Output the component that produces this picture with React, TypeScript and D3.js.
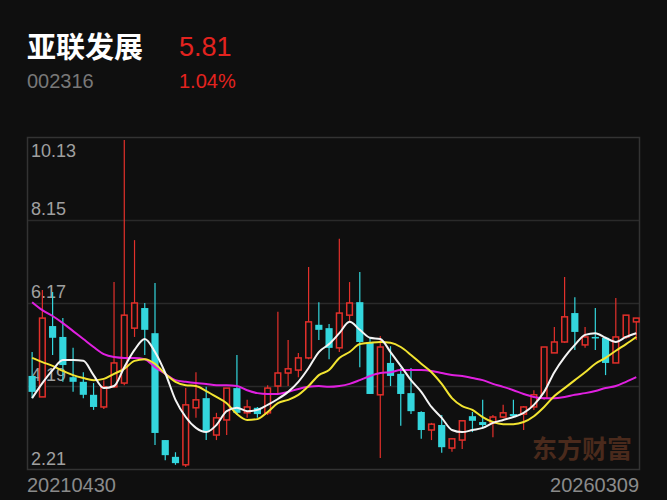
import React from "react";
import * as d3 from "d3";

const stockName = "亚联发展";
const stockCode = "002316";
const lastPrice = "5.81";
const changePct = "1.04%";
const dateLabels = ["20210430", "20260309"];
const yTicks = [10.13, 8.15, 6.17, 4.19, 2.21];

const open = [4.43,3.93,5.62,5.36,4.40,4.29,3.98,3.69,4.17,4.26,5.57,6.05,5.45,2.90,2.50,2.31,3.67,3.90,3.02,3.38,4.14,3.55,3.67,3.55,4.19,4.50,4.57,4.86,5.65,5.57,5.10,5.88,6.19,5.24,3.98,4.74,4.48,4.02,3.57,3.14,3.26,2.71,2.90,3.47,3.33,3.31,3.45,3.52,3.52,3.69,3.90,4.98,5.24,5.93,5.17,5.36,5.34,4.74,5.36,5.72];
const close = [4.05,5.81,5.34,4.69,4.29,3.98,3.69,4.17,4.74,5.88,6.17,5.53,3.07,2.54,2.35,3.74,3.86,3.09,3.43,4.14,3.55,3.69,3.52,4.14,4.50,4.60,4.86,5.72,5.53,5.10,5.93,6.17,5.24,4.00,5.12,4.43,4.00,3.59,3.14,3.28,2.73,2.93,3.36,3.36,3.26,3.45,3.55,3.47,3.69,3.98,5.12,5.24,5.84,5.48,5.36,5.34,4.74,5.36,5.88,5.81];
const high = [5.00,6.48,6.43,5.81,5.10,4.52,4.26,4.33,6.67,10.06,7.67,6.17,6.65,2.90,2.61,4.14,4.52,4.17,3.55,4.14,4.93,3.86,3.69,4.21,5.96,5.29,4.98,7.03,6.19,5.67,7.70,6.67,6.91,5.36,5.38,5.14,4.62,4.62,3.59,3.31,3.50,2.95,3.36,3.57,3.86,3.50,3.74,3.86,3.71,4.09,5.12,5.60,6.79,6.31,5.60,6.05,5.36,6.29,5.88,5.81];
const low = [3.90,3.93,4.93,4.29,4.05,3.90,3.62,3.64,4.14,4.21,5.36,4.93,2.78,2.42,2.31,2.26,3.43,2.90,2.90,3.02,3.50,3.43,3.43,3.50,4.02,4.19,4.40,4.83,5.29,4.83,5.00,5.74,4.64,4.00,2.47,4.19,3.24,3.52,2.93,2.90,2.60,2.62,2.69,3.09,3.17,2.97,3.43,3.45,3.14,3.62,3.86,4.98,5.22,5.05,5.10,5.05,4.45,4.74,5.31,5.29];

const ma5 = [3.90,4.26,4.57,4.81,4.81,4.79,4.45,4.14,4.19,4.64,5.05,5.31,5.00,4.50,3.86,3.45,3.19,3.09,3.26,3.59,3.67,3.59,3.62,3.74,3.88,4.05,4.29,4.62,5.00,5.19,5.45,5.72,5.53,5.34,5.31,5.00,4.67,4.33,4.05,3.69,3.43,3.14,3.09,3.14,3.19,3.31,3.38,3.45,3.55,3.74,4.05,4.52,4.88,5.17,5.41,5.45,5.34,5.24,5.36,5.45];
const ma10 = [4.86,4.76,4.67,4.55,4.45,4.38,4.33,4.36,4.48,4.60,4.79,4.83,4.72,4.48,4.29,4.21,4.19,4.07,3.93,3.78,3.52,3.38,3.40,3.57,3.78,3.86,3.98,4.19,4.45,4.57,4.86,5.00,5.19,5.22,5.24,5.22,5.12,4.93,4.72,4.52,4.24,3.90,3.71,3.62,3.45,3.33,3.28,3.28,3.33,3.47,3.69,3.95,4.14,4.33,4.52,4.72,4.86,5.03,5.19,5.36];
const ma20 = [6.19,6.00,5.86,5.69,5.50,5.31,5.12,4.95,4.88,4.86,4.86,4.83,4.64,4.48,4.33,4.29,4.26,4.24,4.21,4.21,4.19,4.09,4.02,4.00,4.00,4.05,4.12,4.17,4.19,4.17,4.19,4.24,4.33,4.43,4.50,4.52,4.57,4.57,4.57,4.55,4.50,4.45,4.43,4.38,4.33,4.24,4.17,4.09,4.00,3.93,3.90,3.90,3.93,3.98,4.02,4.07,4.14,4.19,4.29,4.40];

const W = 667, H = 500;
const L = 27, R = 639, T = 137, B = 469;
const BG = "#0f0f0f";
const RED = "#e3302b";
const TXT_RED = "#e3231f";
const CYAN = "#33d6dd";
const NUM_FONT = "'Liberation Sans', Arial, sans-serif";

export default function App() {
  const idx = d3.range(open.length);
  const x = d3.scaleBand<number>().domain(idx).range([L, 641.4]).paddingInner(0.3).paddingOuter(0.15);
  const y = d3.scaleLinear().domain([2.21, 10.13]).range([B, T]);
  const cx = (i: number) => (x(i) as number) + x.bandwidth() / 2;
  const line = d3.line<number>().x((_, i) => cx(i)).y((v) => y(v)).curve(d3.curveMonotoneX);

  const labelY = [157, 215, 298, 381, 465];

  return (
    <div style={{ position: "fixed", left: 0, top: 0, width: W, height: H, background: BG }}>
      <svg width={W} height={H} style={{ display: "block" }}>
        <rect x={0} y={0} width={W} height={H} fill={BG} />
        <text x={27} y={58} fill="#ffffff" fontSize={29} fontWeight={600} fontFamily="'Noto Sans CJK SC', sans-serif">{stockName}</text>
        <text x={179} y={56} fill={TXT_RED} fontSize={27} fontFamily={NUM_FONT}>{lastPrice}</text>
        <text x={27} y={88} fill="#787878" fontSize={20} fontFamily={NUM_FONT}>{stockCode}</text>
        <text x={179} y={88} fill={TXT_RED} fontSize={20} fontFamily={NUM_FONT}>{changePct}</text>

        {yTicks.slice(1, 4).map((t) => (
          <line key={t} x1={L} x2={R} y1={Math.round(y(t)) + 0.5} y2={Math.round(y(t)) + 0.5} stroke="#2a2a2a" strokeWidth={1.5} />
        ))}
        <rect x={L + 0.5} y={T + 0.5} width={R - L} height={B - T} fill="none" stroke="#333333" strokeWidth={1.5} />
        {yTicks.map((t, i) => (
          <text key={t} x={31} y={labelY[i]} fill="#a0a0a0" fontSize={18} fontFamily={NUM_FONT}>{t.toFixed(2)}</text>
        ))}
        <text x={632} y={458} textAnchor="end" fill="#4a2a1c" fontSize={25} fontWeight={700} fontFamily="'Noto Sans CJK SC', sans-serif">东方财富</text>

        {idx.map((i) => {
          const up = close[i] >= open[i];
          const color = up ? RED : CYAN;
          const top = y(Math.max(open[i], close[i]));
          const bot = y(Math.min(open[i], close[i]));
          const bx = x(i) as number;
          const bw = x.bandwidth();
          const c = cx(i);
          return (
            <g key={i}>
              <line x1={c} x2={c} y1={y(high[i])} y2={y(low[i])} stroke={color} strokeWidth={1.2} />
              {up ? (
                <rect x={bx + 0.75} y={top} width={bw - 1.5} height={Math.max(bot - top, 1)} fill={BG} stroke={color} strokeWidth={1.5} />
              ) : (
                <rect x={bx} y={top} width={bw} height={Math.max(bot - top, 1.5)} fill={color} />
              )}
            </g>
          );
        })}

        <path d={line(ma20) || ""} fill="none" stroke="#e020e0" strokeWidth={2} />
        <path d={line(ma10) || ""} fill="none" stroke="#f2e431" strokeWidth={2} />
        <path d={line(ma5) || ""} fill="none" stroke="#f4f4f4" strokeWidth={2} />

        <text x={27} y={492} fill="#8a8a8a" fontSize={20} fontFamily={NUM_FONT}>{dateLabels[0]}</text>
        <text x={639} y={492} textAnchor="end" fill="#8a8a8a" fontSize={20} fontFamily={NUM_FONT}>{dateLabels[1]}</text>
      </svg>
    </div>
  );
}
